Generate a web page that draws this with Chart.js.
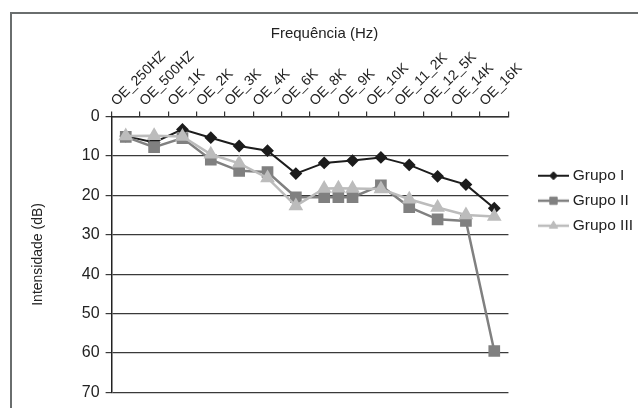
<!DOCTYPE html>
<html>
<head>
<meta charset="utf-8">
<script src="https://cdn.jsdelivr.net/npm/chart.js@4.4.1/dist/chart.umd.min.js"></script>
<style>
  html, body { margin: 0; padding: 0; background: #fff; overflow: hidden; }
  #frame { position: absolute; left: 10px; top: 12px; width: 640px; height: 410px; border: 2px solid #6a6e6e; }
  #chart { position: absolute; left: 0; top: 0; }
</style>
</head>
<body>
<div id="frame"></div>
<canvas id="chart" width="638" height="408"></canvas>
<script>
// categorias do eixo x (frequências)
const freqLabels = ['OE_250HZ', 'OE_500HZ', 'OE_1K', 'OE_2K', 'OE_3K', 'OE_4K', 'OE_6K',
  'OE_8K', 'OE_9K', 'OE_10K', 'OE_11_2K', 'OE_12_5K', 'OE_14K', 'OE_16K'];

// índice da categoria de cada ponto (os grupos II e III têm um ponto extra entre 8K e 9K)
const grupo1Idx = [0, 1, 2, 3, 4, 5, 6, 7, 8, 9, 10, 11, 12, 13];
const grupo2Idx = [0, 1, 2, 3, 4, 5, 6, 7, 7.5, 8, 9, 10, 11, 12, 13];
const grupo3Idx = [0, 1, 2, 3, 4, 5, 6, 7, 7.5, 8, 9, 10, 11, 12, 13];

// intensidade (dB)
const grupo1 = [5.0, 6.6, 3.3, 5.4, 7.5, 8.7, 14.5, 11.8, 11.2, 10.4, 12.3, 15.2, 17.3, 23.3];
const grupo2 = [5.2, 7.8, 5.5, 11.0, 13.8, 14.1, 20.5, 20.5, 20.5, 20.5, 17.5, 23.0, 26.1, 26.5, 59.5];
const grupo3 = [5.0, 4.9, 5.1, 9.6, 11.9, 15.6, 22.7, 18.3, 18.2, 18.3, 18.4, 21.0, 23.1, 25.0, 25.4];

const yTicks = [0, 10, 20, 30, 40, 50, 60, 70];

Chart.defaults.font.family = "'Liberation Sans', Arial, sans-serif";
Chart.defaults.color = '#222';

const toPoints = (idx, vals) => idx.map((x, i) => ({ x: x, y: vals[i] }));

// amostra da legenda: linha com marcador
const LEG_W = 55, LEG_BOX = 47;
function swatch(color, style, radius, lw) {
  const c = document.createElement('canvas');
  c.width = LEG_W; c.height = 14;
  const g = c.getContext('2d');
  g.strokeStyle = color; g.fillStyle = color; g.lineWidth = lw;
  g.beginPath(); g.moveTo(24, 7); g.lineTo(LEG_W, 7); g.stroke();
  g.lineWidth = 1;
  Chart.helpers.drawPoint(g, { pointStyle: style, radius: radius, rotation: 0, borderWidth: 1 }, 39.5, 7);
  return c;
}

const series = [
  { label: 'Grupo I', idx: grupo1Idx, vals: grupo1, color: '#1c1c1c', style: 'rectRot', r: 5, lw: 2, order: 3 },
  { label: 'Grupo II', idx: grupo2Idx, vals: grupo2, color: '#808080', style: 'rect', r: 6.5, lw: 2.5, order: 2 },
  { label: 'Grupo III', idx: grupo3Idx, vals: grupo3, color: '#bcbcbc', style: 'triangle', r: 6, lw: 2.5, order: 1 }
];

const ctx = document.getElementById('chart').getContext('2d');
const chart = new Chart(ctx, {
  type: 'line',
  data: {
    datasets: series.map(s => ({
      label: s.label,
      data: toPoints(s.idx, s.vals),
      borderColor: s.color,
      backgroundColor: s.color,
      pointBackgroundColor: s.color,
      pointBorderColor: s.color,
      pointStyle: s.style,
      pointRadius: s.r,
      borderWidth: s.lw,
      tension: 0,
      order: s.order
    }))
  },
  options: {
    responsive: false,
    animation: false,
    devicePixelRatio: 1,
    layout: { padding: { top: 0, left: 6, right: -5, bottom: 15 } },
    scales: {
      x: {
        type: 'linear',
        position: 'top',
        min: -0.5,
        max: freqLabels.length - 0.5,
        afterBuildTicks: scale => {
          const t = [];
          for (let i = 0; i <= freqLabels.length * 2; i++) t.push({ value: -0.5 + i / 2 });
          scale.ticks = t;
        },
        ticks: {
          autoSkip: false,
          minRotation: 45,
          maxRotation: 45,
          padding: 2,
          font: { size: 14 },
          callback: v => Number.isInteger(v) ? freqLabels[v] : ''
        },
        grid: {
          drawOnChartArea: false,
          tickLength: 5,
          tickColor: c => (c.tick && Number.isInteger(c.tick.value)) ? 'rgba(0,0,0,0)' : '#333',
          lineWidth: 1.2
        },
        border: { display: true, color: '#333', width: 1.5 }
      },
      y: {
        type: 'linear',
        reverse: true,
        min: 0,
        max: 70,
        afterBuildTicks: scale => { scale.ticks = yTicks.map(v => ({ value: v })); },
        ticks: { font: { size: 16 }, padding: 6 },
        title: {
          display: true,
          text: 'Intensidade (dB)',
          font: { size: 14 },
          padding: { top: 24, bottom: 29 }
        },
        grid: { color: '#3a3a3a', lineWidth: 1.2, tickLength: 6 },
        border: { display: true, color: '#222', width: 1.5 }
      }
    },
    plugins: {
      title: {
        display: true,
        text: 'Frequência (Hz)',
        font: { size: 15, weight: 'normal' },
        color: '#222',
        padding: { top: 25, bottom: 3 }
      },
      legend: {
        position: 'right',
        align: 'start',
        title: { display: true, text: '', font: { size: 10 }, padding: { top: 146.5, bottom: 0 } },
        labels: {
          font: { size: 15.5 },
          color: '#222',
          padding: 9.5,
          usePointStyle: true,
          pointStyleWidth: LEG_BOX,
          sort: (a, b) => a.datasetIndex - b.datasetIndex,
          generateLabels: ch => {
            const items = Chart.defaults.plugins.legend.labels.generateLabels(ch);
            items.forEach(it => {
              const s = series[it.datasetIndex];
              it.pointStyle = swatch(s.color, s.style, s.r * 0.8, s.lw);
            });
            return items;
          }
        }
      },
      tooltip: { enabled: false }
    }
  }
});
</script>
</body>
</html>
